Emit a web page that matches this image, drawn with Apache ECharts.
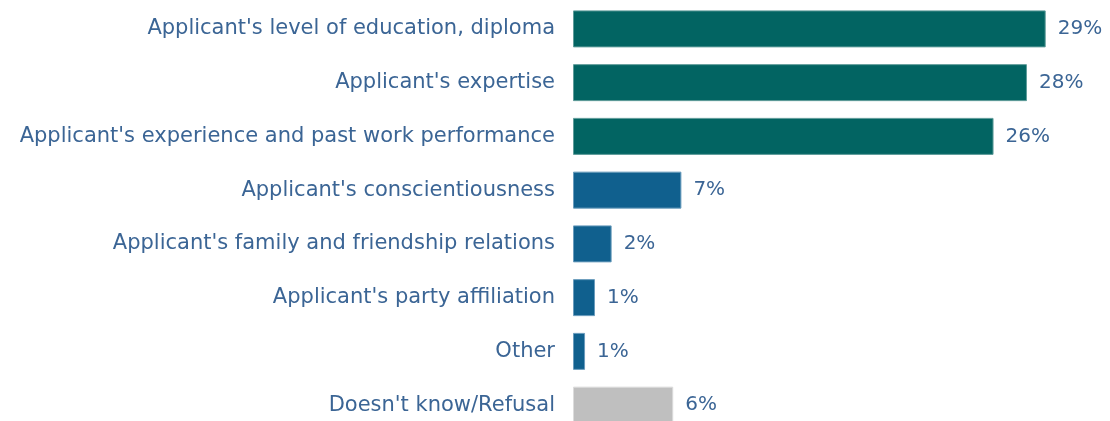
<!DOCTYPE html>
<html>
<head>
<meta charset="utf-8">
<script src="https://cdn.jsdelivr.net/npm/echarts@6/dist/echarts.min.js"></script>
<style>
  html, body { margin: 0; padding: 0; background: #ffffff; }
  #chart { width: 1110px; height: 421px; }
</style>
</head>
<body>
<div id="chart"></div>
<script>
// Reasons cited for hiring decisions (share of respondents, %)
const categories = [
  "Applicant's level of education, diploma",
  "Applicant's expertise",
  "Applicant's experience and past work performance",
  "Applicant's conscientiousness",
  "Applicant's family and friendship relations",
  "Applicant's party affiliation",
  "Other",
  "Doesn't know/Refusal"
];
const values = [29.0, 27.85, 25.8, 6.65, 2.37, 1.35, 0.74, 6.15];
const groups = ["merit", "merit", "merit", "other", "other", "other", "other", "none"];

const groupColors = { merit: '#026462', other: '#10608e', none: '#bfbfbf' };
const groupBorders = { merit: '#5f9c9a', other: '#6a9cbd', none: '#dcdcdc' };
const textColor = '#3b6595';
const fontFamily = 'DejaVu Sans, Verdana, sans-serif';

const chart = echarts.init(document.getElementById('chart'), null, { renderer: 'canvas' });

chart.setOption({
  animation: false,
  grid: {
    left: 573, width: 489, top: 2, height: 430,
    containLabel: false,
    outerBoundsMode: 'none'
  },
  xAxis: {
    type: 'value', min: 0, max: 30,
    show: false
  },
  yAxis: {
    type: 'category',
    data: categories,
    inverse: true,
    axisLine: { show: false },
    axisTick: { show: false },
    axisLabel: {
      color: textColor,
      fontFamily: fontFamily,
      fontSize: 21,
      margin: 18
    }
  },
  series: [{
    type: 'bar',
    barWidth: 37,
    data: values.map((v, i) => ({
      value: v,
      itemStyle: {
        color: groupColors[groups[i]],
        borderColor: groupBorders[groups[i]],
        borderWidth: 1
      }
    })),
    label: {
      show: true,
      position: 'right',
      distance: 12,
      color: textColor,
      fontFamily: fontFamily,
      fontSize: 20,
      formatter: p => Math.round(p.value) + '%'
    }
  }]
});
</script>
</body>
</html>
